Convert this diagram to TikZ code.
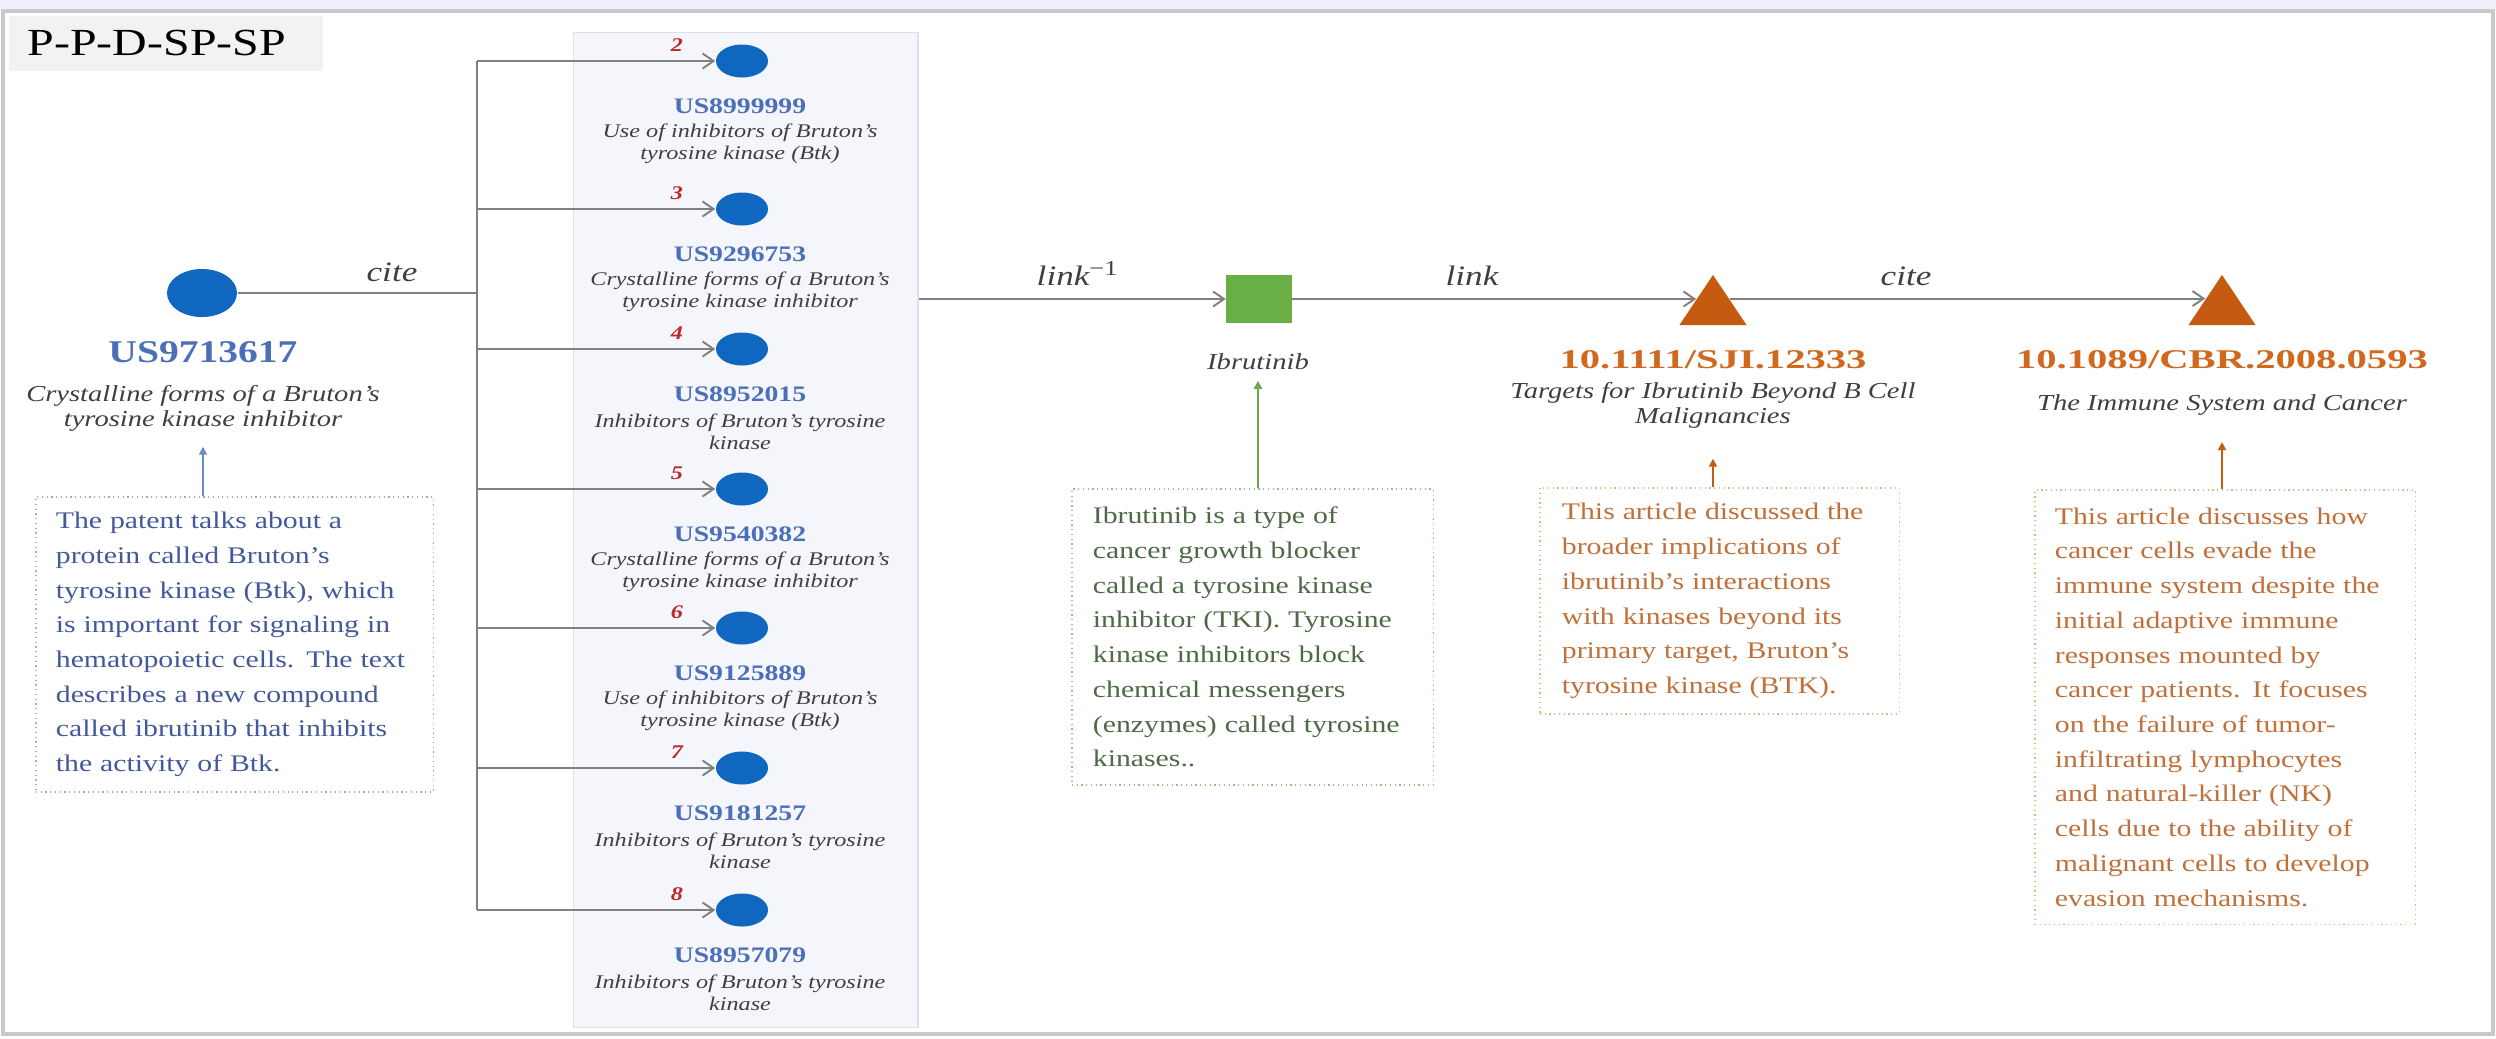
\documentclass[tikz,border=0pt]{standalone}
\usepackage{fontspec}
\setmainfont[FakeStretch=1.25]{Liberation Serif}
\newfontfamily\widefont[FakeStretch=1.5]{Liberation Serif}
\usetikzlibrary{shapes.geometric,shapes.misc,arrows.meta,calc}

\definecolor{topstrip}{HTML}{EEF0FC}
\definecolor{framegray}{HTML}{C8C8C8}
\definecolor{titlefill}{HTML}{F2F2F2}
\definecolor{nodeblue}{HTML}{0F67C0}
\definecolor{pidblue}{HTML}{4B6FB8}
\definecolor{rankred}{HTML}{C0272D}
\definecolor{captgray}{HTML}{3F3F3F}
\definecolor{linegray}{HTML}{808080}
\definecolor{panelfill}{HTML}{F4F6FB}
\definecolor{panelline}{HTML}{DCE1EB}
\definecolor{noteblue}{HTML}{9AAAD3}
\definecolor{notebluetext}{HTML}{44599A}
\definecolor{arrowblue}{HTML}{6F8AC0}
\definecolor{drugreen}{HTML}{6AAE46}
\definecolor{notegreen}{HTML}{93C47D}
\definecolor{notegreentext}{HTML}{4E6A45}
\definecolor{arrowgreen}{HTML}{6AA84F}
\definecolor{triorange}{HTML}{C55A11}
\definecolor{doiorange}{HTML}{D0691E}
\definecolor{noteorange}{HTML}{F0B084}
\definecolor{noteorangetext}{HTML}{C0703A}

\tikzset{
  conn/.style={draw=linegray, line width=0.55pt},
  citearrow/.style={conn, -{Straight Barb[length=1.1mm,width=1.5mm]}},
  patent/.style={ellipse, fill=nodeblue, inner sep=0pt, minimum width=0.52cm, minimum height=0.33cm},
  mainpat/.style={ellipse, fill=nodeblue, inner sep=0pt, minimum width=0.70cm, minimum height=0.48cm},
  pid/.style={font=\bfseries\fontsize{6.3pt}{7pt}\selectfont, text=pidblue, inner sep=0pt},
  mainid/.style={font=\bfseries\fontsize{9pt}{10pt}\selectfont, text=pidblue, inner sep=0pt},
  ptitle/.style={font=\itshape\fontsize{5.5pt}{6.26pt}\selectfont, text=captgray, align=center, inner sep=0pt},
  caption/.style={font=\itshape\fontsize{6.5pt}{7.1pt}\selectfont, text=captgray, align=center, inner sep=0pt},
  rank/.style={font=\bfseries\itshape\fontsize{5.5pt}{6pt}\selectfont, text=rankred, inner sep=0pt},
  rel/.style={font=\itshape\fontsize{8pt}{9pt}\selectfont, text=captgray, inner sep=0pt, anchor=base},
  doi/.style={font=\widefont\bfseries\fontsize{7.7pt}{9pt}\selectfont, text=doiorange, inner sep=0pt},
  note/.style={densely dotted, line width=0.35pt, fill=white, inner xsep=0.2cm, inner ysep=0pt,
    align=left, font=\fontsize{6.77pt}{9.87pt}\selectfont},
  blueup/.style={draw=arrowblue, line width=0.5pt, -{Triangle[length=0.8mm,width=0.8mm]}},
  greenup/.style={draw=arrowgreen, line width=0.5pt, -{Triangle[length=0.8mm,width=0.8mm]}},
  orangeup/.style={draw=triorange, line width=0.5pt, -{Triangle[length=0.8mm,width=0.8mm]}},
  doitri/.style={regular polygon, regular polygon sides=3, minimum size=0.667cm, inner sep=0pt,
    fill=triorange, transform shape, xscale=1.16},
}

\begin{document}
\begin{tikzpicture}[x=0.01cm, y=-0.01cm]
\useasboundingbox (0,0) rectangle (2496,1038);

% page strip and frame
\fill[topstrip] (0,0) rectangle (2496,9);
\draw[framegray, line width=1pt] (3,11) rectangle (2493,1034);

% path type tag
\node[anchor=north west, fill=titlefill, minimum width=3.14cm, minimum height=0.55cm,
  inner xsep=0.19cm, text width=2.76cm, align=left,
  font=\fontsize{10.9pt}{12pt}\selectfont] (title) at (8,15) {P-P-D-SP-SP};

% source patent
\node[mainpat] (m) at (202,293) {};
\node[mainid] (mid) at (203,352) {US9713617};
\node[caption] (mcap) at (203,408) {Crystalline forms of a Bruton's\\tyrosine kinase inhibitor};
\node[note, draw=noteblue, text=notebluetext, text width=3.57cm, minimum height=2.95cm] (lbox) at (234.5,644.5)
  {The patent talks about a\\protein called Bruton's\\tyrosine kinase (Btk), which\\is important for signaling in\\hematopoietic cells. The text\\describes a new compound\\called ibrutinib that inhibits\\the activity of Btk.};
\draw[blueup, shorten >=0.15cm] (lbox.north -| mcap) -- (mcap.south);

% panel of cited patents
\node[draw=panelline, fill=panelfill, line width=0.4pt, minimum width=3.44cm, minimum height=9.94cm,
  anchor=north west, inner sep=0pt] (panel) at (573,32) {};

% citation trunk
\coordinate (trunk2) at (477,61);
\coordinate (trunk8) at (477,910);
\draw[conn] (trunk2) -- (trunk8);
\draw[conn] (m.east) -- (m.east -| trunk2);
\node[rel] (citeA) at (392,281) {cite};

\foreach \k/\yy/\pid/\la/\lb in {
  2/61/US8999999/{Use of inhibitors of Bruton's}/{tyrosine kinase (Btk)},
  3/209/US9296753/{Crystalline forms of a Bruton's}/{tyrosine kinase inhibitor},
  4/349/US8952015/{Inhibitors of Bruton's tyrosine}/{kinase},
  5/489/US9540382/{Crystalline forms of a Bruton's}/{tyrosine kinase inhibitor},
  6/628/US9125889/{Use of inhibitors of Bruton's}/{tyrosine kinase (Btk)},
  7/768/US9181257/{Inhibitors of Bruton's tyrosine}/{kinase},
  8/910/US8957079/{Inhibitors of Bruton's tyrosine}/{kinase}}{
  \node[patent] (p\k) at (742,\yy) {};
  \node[rank] (r\k) at (677,\yy-16) {\k};
  \node[pid] (id\k) at (740,\yy+45) {\pid};
  \node[ptitle] (tt\k) at (740,\yy+83) {\la\\\lb};
  \coordinate (trunk\k) at (477,\yy);
  \draw[citearrow] (trunk\k) -- (p\k.west);
}

% drug node
\node[fill=drugreen, minimum width=0.65cm, minimum height=0.48cm, inner sep=0pt] (sq) at (1259,299) {};
\node[caption] (sqcap) at (1258,362) {Ibrutinib};
\draw[citearrow] (panel.east |- sq.west) -- (sq.west);
\node[rel] (linkinv) at (1078,285) {link\textsuperscript{\upshape −1}};
\node[note, draw=notegreen, text=notegreentext, text width=3.19cm, inner xsep=0.21cm, minimum height=2.96cm] (gbox) at (1252.5,637)
  {Ibrutinib is a type of\\cancer growth blocker\\called a tyrosine kinase\\inhibitor (TKI). Tyrosine\\kinase inhibitors block\\chemical messengers\\(enzymes) called tyrosine\\kinases..};
\draw[greenup, shorten >=0.1cm] (gbox.north -| sqcap) -- (sqcap.south);

% literature nodes
\begin{scope}[shift={(1713,308.3)}]
  \node[doitri] (t1) at (0,0) {};
\end{scope}
\begin{scope}[shift={(2222,308.3)}]
  \node[doitri] (t2) at (0,0) {};
\end{scope}
\coordinate (t1in) at ($(t1.corner 1)!0.48!(t1.corner 2)$);
\coordinate (t1out) at ($(t1.corner 1)!0.48!(t1.corner 3)$);
\coordinate (t2in) at ($(t2.corner 1)!0.48!(t2.corner 2)$);
\draw[citearrow] (sq.east) -- (sq.east -| t1in);
\draw[citearrow] (t1out) -- (t1out -| t2in);
\node[rel] (linkB) at (1472,285) {link};
\node[rel] (citeB) at (1906,285) {cite};

\node[doi] (d1) at (1713,360) {10.1111/SJI.12333};
\node[caption] (c1) at (1713,405) {Targets for Ibrutinib Beyond B Cell\\Malignancies};
\node[doi] (d2) at (2222,360) {10.1089/CBR.2008.0593};
\node[caption] (c2) at (2222,405) {The Immune System and Cancer};

\node[note, draw=noteorange, text=noteorangetext, text width=3.15cm, inner xsep=0.22cm, minimum height=2.26cm] (obox1) at (1719.5,601)
  {This article discussed the\\broader implications of\\ibrutinib's interactions\\with kinases beyond its\\primary target, Bruton's\\tyrosine kinase (BTK).};
\draw[orangeup, shorten >=0.3cm] (obox1.north -| c1) -- (c1.south);

\node[note, draw=noteorange, text=noteorangetext, text width=3.40cm, minimum height=4.34cm] (obox2) at (2225,707)
  {This article discusses how\\cancer cells evade the\\immune system despite the\\initial adaptive immune\\responses mounted by\\cancer patients. It focuses\\on the failure of tumor-\\infiltrating lymphocytes\\and natural-killer (NK)\\cells due to the ability of\\malignant cells to develop\\evasion mechanisms.};
\draw[orangeup, shorten >=0.26cm] (obox2.north -| c2) -- (c2.south);
\end{tikzpicture}
\end{document}
